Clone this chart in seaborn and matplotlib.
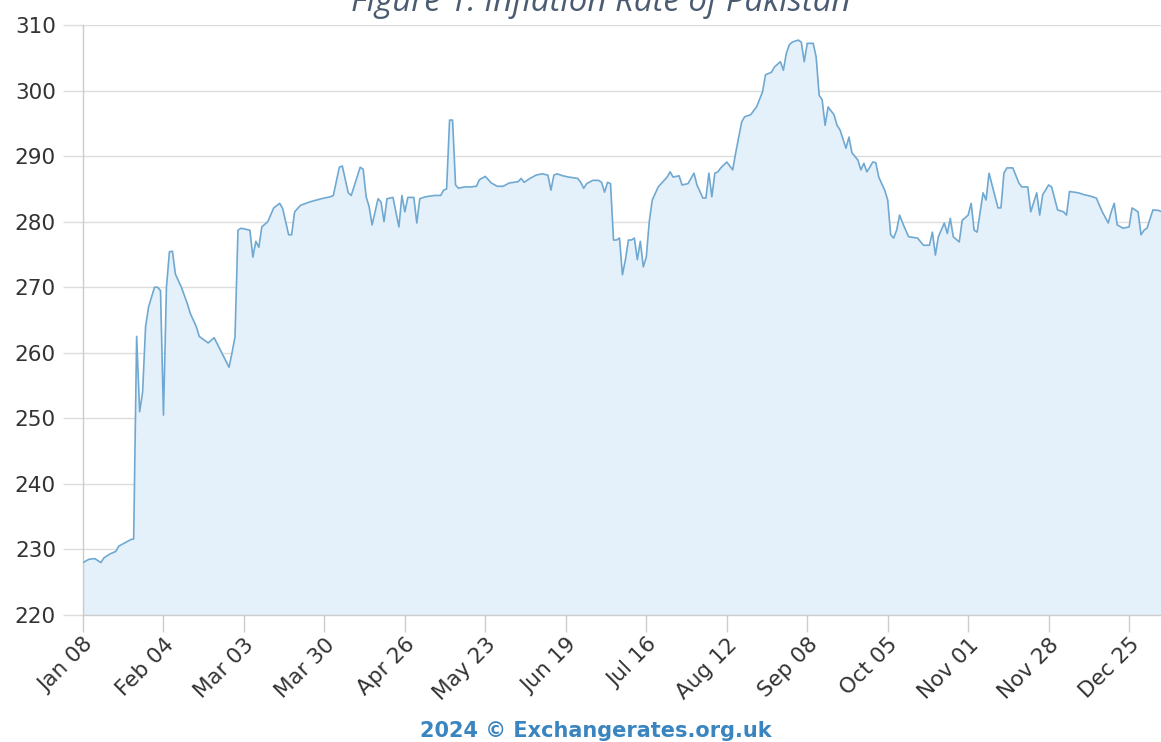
import numpy as np
import pandas as pd
import matplotlib
matplotlib.use("Agg")
import matplotlib.pyplot as plt
import matplotlib.dates as mdates
import seaborn as sns

# ---- data ----
start_date = "2023-01-08"
day_offset = [
    0, 2, 4, 6, 7, 9, 11, 12, 14, 16, 17, 18, 19, 20, 21, 22, 23, 24, 25, 26,
    27, 28, 29, 30, 31, 32, 33, 35, 36, 38, 39, 42, 44, 46, 49, 50, 51, 52,
    53, 56, 57, 58, 59, 60, 62, 64, 66, 67, 69, 70, 71, 73, 76, 80, 83, 84,
    86, 87, 89, 90, 93, 94, 95, 96, 97, 99, 100, 101, 102, 104, 106, 107, 108,
    109, 111, 112, 113, 115, 118, 120, 121, 122, 123, 124, 125, 126, 128, 130,
    132, 133, 135, 137, 139, 141, 143, 146, 147, 148, 150, 152, 154, 156, 157,
    158, 159, 161, 163, 166, 167, 168, 169, 171, 173, 174, 175, 176, 177, 178,
    179, 180, 181, 182, 183, 184, 185, 186, 187, 188, 189, 190, 191, 193, 196,
    197, 198, 200, 201, 203, 205, 206, 208, 209, 210, 211, 212, 213, 214, 216,
    218, 219, 221, 222, 224, 226, 228, 229, 231, 232, 234, 235, 236, 237, 238,
    240, 241, 242, 243, 245, 246, 247, 248, 249, 250, 251, 252, 253, 254, 256,
    257, 258, 260, 261, 262, 263, 264, 265, 266, 267, 269, 270, 271, 272, 273,
    274, 275, 277, 280, 282, 284, 285, 286, 287, 289, 290, 291, 292, 294, 295,
    297, 298, 299, 300, 302, 303, 304, 307, 308, 309, 310, 312, 314, 315, 317,
    318, 320, 321, 322, 324, 325, 327, 329, 330, 331, 334, 336, 338, 340, 342,
    344, 345, 346, 347, 349, 351, 352, 354, 355, 356, 357, 359, 361, 362,
]
rate = [
    228.0, 228.5, 228.6, 228.0, 228.7, 229.3, 229.7, 230.5, 231.0, 231.5, 231.6, 262.5, 251.0, 254.0, 264.0, 267.0, 268.5, 270.0, 270.0, 269.5,
    250.5, 270.0, 275.4, 275.5, 272.0, 271.0, 270.0, 267.5, 266.0, 264.0, 262.5, 261.5, 262.3, 260.5, 257.8, 260.0, 262.4, 278.7,
    279.0, 278.7, 274.6, 277.0, 276.1, 279.2, 280.0, 282.1, 282.8, 282.0, 278.0, 278.0, 281.5, 282.5, 283.0, 283.5, 283.8, 284.0,
    288.3, 288.5, 284.4, 284.0, 288.3, 288.0, 283.8, 282.3, 279.5, 283.5, 283.0, 280.0, 283.5, 283.7, 279.2, 284.0, 281.5,
    283.7, 283.7, 279.8, 283.5, 283.8, 284.0, 284.0, 284.8, 285.0, 295.5, 295.5, 285.6, 285.1, 285.3, 285.3,
    285.4, 286.4, 286.9, 285.9, 285.4, 285.4, 285.9, 286.1, 286.6, 286.0, 286.6, 287.1, 287.3, 287.1, 284.8,
    287.1, 287.3, 287.0, 286.8, 286.6, 286.0, 285.1, 285.8, 286.3, 286.3, 286.0, 284.5, 286.0, 285.8, 277.2,
    277.2, 277.5, 271.9, 274.2, 277.2, 277.2, 277.5, 274.2, 277.0, 273.1, 274.6, 280.0, 283.3, 285.3, 286.8,
    287.6, 286.8, 287.0, 285.6, 285.8, 287.4, 285.6, 283.6, 283.6, 287.4, 283.8, 287.4, 287.6, 288.2, 289.1,
    287.9, 290.5, 295.2, 296.0, 296.3, 297.5, 299.8, 302.4, 302.8, 303.6, 304.4, 303.1, 305.7, 307.0, 307.4,
    307.7, 307.4, 304.4, 307.2, 307.2, 305.1, 299.3, 298.6, 294.7, 297.5, 296.9, 296.3, 294.7, 294.0, 291.2,
    292.9, 290.5, 289.4, 287.9, 288.9, 287.6, 288.3, 289.1, 289.0, 286.8, 284.8, 283.3, 278.0, 277.5, 278.7,
    281.0, 279.8, 277.7, 277.5, 276.4, 276.4, 278.4, 274.9, 277.7, 279.8, 278.2, 280.5, 277.7, 276.9, 280.2,
    281.0, 282.8, 278.7, 278.4, 284.4, 283.3, 287.4, 282.1, 282.1, 287.4, 288.2, 288.2, 285.9, 285.3, 285.3,
    281.5, 284.4, 281.0, 284.1, 285.6, 285.3, 281.8, 281.5, 281.0, 284.6, 284.4, 284.1, 283.9, 283.6, 281.5,
    279.8, 281.5, 282.8, 279.5, 279.0, 279.2, 282.1, 281.5, 278.0, 278.7, 279.0, 281.8, 281.7, 281.5,
]
y_ticks = [220, 230, 240, 250, 260, 270, 280, 290, 300, 310]
tick_step_days = 27
n_xticks = 14
title_text = "Figure 1: Inflation Rate of Pakistan"
footer_text = "2024 \u00a9 Exchangerates.org.uk"

# ---- build frame ----
dates = pd.Timestamp(start_date) + pd.to_timedelta(day_offset, unit="D")
df = pd.DataFrame({"date": dates, "rate": rate})

sns.set_theme(style="white")
plt.rcParams["font.family"] = ["DejaVu Sans"]

fig = plt.figure(figsize=(11.61, 7.42), dpi=100)
ax = fig.add_axes([83 / 1161, 1 - 615 / 742, 1 - 83 / 1161, (615 - 25) / 742])

line_color = "#6fa9d2"
fill_color = "#e4f0fa"

ax.fill_between(df["date"], df["rate"], 220, color=fill_color, linewidth=0, zorder=1)
sns.lineplot(data=df, x="date", y="rate", ax=ax, color=line_color, linewidth=1.2, zorder=3)

x0 = pd.Timestamp(start_date)
ax.set_xlim(x0, x0 + pd.Timedelta(days=361.7))
ax.set_ylim(220, 310)

xt = [x0 + pd.Timedelta(days=tick_step_days * k) for k in range(n_xticks)]
ax.set_xticks(xt)
ax.xaxis.set_major_formatter(mdates.DateFormatter("%b %d"))
ax.set_yticks(y_ticks)

ax.grid(axis="y", color="#dcdcdc", linewidth=1.0, zorder=0)
ax.grid(axis="x", visible=False)
for s in ["top", "right"]:
    ax.spines[s].set_visible(False)
ax.spines["left"].set_color("#cccccc")
ax.spines["left"].set_linewidth(1.0)
ax.spines["bottom"].set_color("#cccccc")
ax.spines["bottom"].set_linewidth(1.0)

ax.tick_params(axis="y", which="major", length=14.5, width=1.0, color="#dcdcdc",
               pad=5, labelsize=15.5, labelcolor="#333333", left=True)
ax.tick_params(axis="x", which="major", length=12, width=1.0, color="#cccccc",
               pad=2, labelsize=15.5, labelcolor="#333333", bottom=True)
for lab in ax.get_xticklabels():
    lab.set_rotation(45)
    lab.set_ha("right")
    lab.set_rotation_mode("anchor")

ax.set_xlabel("")
ax.set_ylabel("")

fig.text(601 / 1161, 1 - 11 / 742, title_text, ha="center", va="baseline",
         fontsize=23.8, style="italic", color="#4a5b72", family=["Open Sans", "DejaVu Sans"])
fig.text(596 / 1161, 1 - 737 / 742, footer_text, ha="center", va="baseline",
         fontsize=15, fontweight="bold", color="#3a85bf")

fig.savefig("out.png", dpi=100)
